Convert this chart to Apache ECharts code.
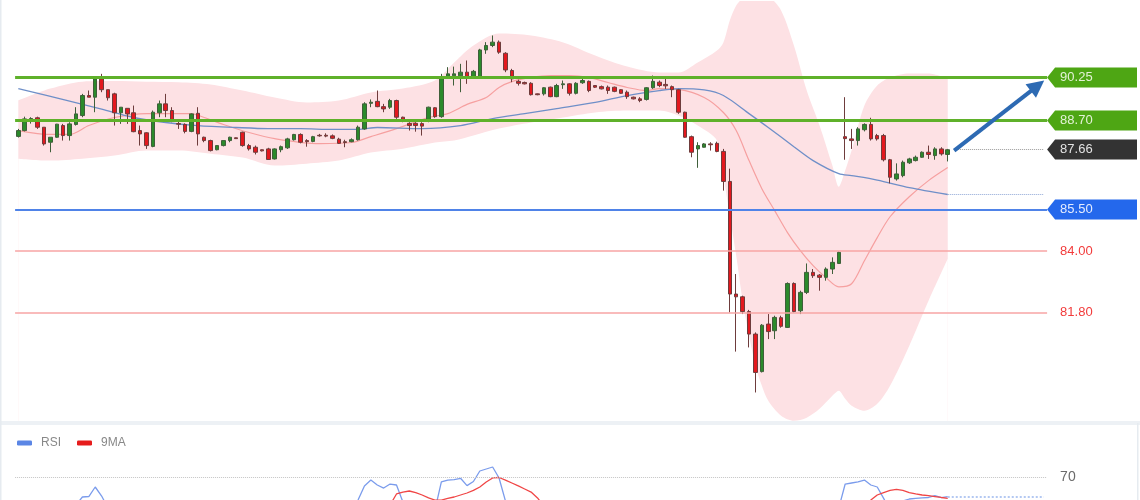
<!DOCTYPE html>
<html><head><meta charset="utf-8">
<script src="https://cdn.jsdelivr.net/npm/echarts@6/dist/echarts.min.js"></script>
<style>html,body{margin:0;padding:0;background:#fff}#c{width:1140px;height:500px}</style>
</head><body><div id="c"></div>
<script>
// ---------- DATA ----------
const opens = [88.13,88.34,88.75,88.80,88.46,87.92,88.10,88.52,88.16,88.56,
88.88,89.60,89.54,90.20,89.81,89.66,88.98,89.14,88.98,88.34,
88.26,87.77,88.98,89.30,89.06,88.59,88.56,88.31,88.96,88.10,
87.98,87.65,87.80,87.98,88.08,88.28,87.80,87.74,87.65,87.68,
87.32,87.65,87.72,88.01,88.20,87.98,87.95,88.17,88.17,88.15,
88.03,87.94,87.94,88.01,88.40,89.32,89.39,89.20,89.18,89.42,
88.82,88.60,88.60,88.59,88.70,89.16,88.84,90.26,90.31,90.31,
90.44,90.28,90.28,91.24,91.40,91.52,91.12,90.50,90.11,90.07,
90.04,89.66,89.66,89.90,89.56,89.99,90.02,89.68,90.06,90.11,
89.96,89.92,89.90,89.90,89.81,89.72,89.54,89.48,89.46,89.88,
90.08,90.00,89.92,89.81,89.00,88.12,87.68,87.74,87.86,87.88,
87.59,86.51,82.46,82.36,81.83,81.02,79.67,81.38,81.14,81.61,
81.26,82.84,81.86,82.52,83.24,83.14,83.06,83.36,83.56,88.12,
88.04,87.98,88.37,88.56,88.16,88.16,87.29,86.60,86.72,87.18,
87.26,87.38,87.56,87.44,87.68,87.48];
const closes = [88.34,88.76,88.77,88.46,87.86,88.10,88.57,88.16,88.58,88.94,
89.60,89.54,90.20,89.81,89.52,88.98,89.18,88.94,88.30,88.22,
87.80,89.00,89.30,89.06,88.70,88.57,88.31,88.94,88.22,87.98,
87.62,87.80,87.98,88.10,88.05,87.80,87.68,87.56,87.61,87.30,
87.68,87.76,88.04,88.20,87.92,87.94,88.12,88.15,88.14,88.06,
87.88,87.91,88.01,88.46,89.30,89.36,89.20,89.12,89.42,88.82,
88.73,88.52,88.52,88.50,89.18,88.84,90.22,90.38,90.38,90.44,
90.26,90.47,91.24,91.40,91.52,91.16,90.52,90.20,90.04,90.02,
89.63,89.63,89.88,89.56,89.96,90.02,89.68,90.04,90.14,89.78,
89.90,89.84,89.78,89.75,89.68,89.56,89.48,89.42,89.88,90.11,
89.96,89.95,89.81,89.00,88.10,87.56,87.80,87.86,87.83,87.59,
86.51,82.46,82.36,81.83,81.02,79.64,81.34,81.11,81.62,81.30,
82.84,81.83,82.52,83.24,83.12,83.06,83.36,83.60,83.96,88.05,
87.98,88.40,88.56,88.04,88.04,87.29,86.66,86.78,87.20,87.32,
87.38,87.56,87.48,87.68,87.50,87.65];
const lows = [88.09,88.31,88.59,88.40,87.80,87.56,88.08,87.98,87.98,88.52,
88.82,89.54,89.00,89.72,89.42,88.52,88.58,88.58,88.28,87.80,
87.68,87.74,88.82,88.82,88.64,88.40,88.24,88.28,87.80,87.92,
87.59,87.63,87.77,87.92,88.04,87.76,87.62,87.48,87.59,87.29,
87.30,87.56,87.68,87.98,87.88,87.76,87.92,88.12,88.10,88.03,
87.86,87.74,87.92,87.98,88.37,89.18,89.18,89.00,89.12,88.76,
88.64,88.34,88.30,88.16,88.64,88.80,88.80,90.20,89.96,89.72,
90.02,90.26,90.26,91.10,91.34,91.10,90.44,90.08,89.96,90.00,
89.60,89.61,89.60,89.54,89.54,89.84,89.60,89.64,90.02,89.72,
89.87,89.82,89.66,89.72,89.66,89.48,89.46,89.36,89.42,89.84,
89.90,89.84,89.54,88.94,88.08,87.38,87.00,87.73,87.62,87.56,
86.18,81.80,80.39,81.74,80.54,78.92,79.64,80.84,80.84,81.25,
81.24,81.80,81.74,82.46,83.04,82.58,82.94,83.18,83.54,87.29,
87.68,87.80,88.31,87.98,87.98,87.23,86.44,86.54,86.66,87.14,
87.23,87.36,87.32,87.29,87.44,87.23];
const highs = [88.40,88.84,88.82,88.84,88.46,88.10,88.58,88.58,88.64,89.18,
89.66,89.78,90.26,90.38,89.81,89.70,89.18,89.14,89.24,88.52,
88.28,89.06,89.42,89.66,89.18,88.70,88.60,88.96,89.18,88.12,
88.01,87.80,87.98,88.12,88.09,88.30,87.86,87.80,87.66,87.72,
87.70,87.80,88.08,88.22,88.24,88.03,88.15,88.22,88.24,88.20,
88.08,88.01,88.06,88.52,89.36,89.46,89.78,89.30,89.48,89.45,
88.84,88.64,88.64,88.64,89.20,89.18,90.38,90.62,90.64,90.74,
90.86,90.52,91.28,91.52,91.76,91.58,91.16,90.56,90.17,90.10,
90.08,89.67,89.90,89.92,90.02,90.14,90.04,90.08,90.20,90.14,
89.96,89.96,89.96,89.92,89.83,89.78,89.56,89.54,89.90,90.32,
90.14,90.20,89.96,89.84,89.02,88.16,87.92,87.89,87.92,87.94,
87.68,86.97,83.18,82.40,81.89,81.08,81.38,81.74,81.68,81.68,
82.88,82.88,82.58,83.56,83.36,83.18,83.42,83.78,83.99,89.54,
88.40,88.46,88.60,88.80,88.22,88.22,87.32,87.16,87.26,87.36,
87.44,87.59,87.80,87.74,87.74,87.68];

// Bollinger band readings: [candle number, upper, lower]
const bandPts = [[1,89.42,87.33],[6,89.85,87.26],[11,90.10,87.33],[16,90.12,87.44],[21,90.10,87.62],[26,90.08,87.62],
[31,90.00,87.51],[36,89.78,87.37],[41,89.53,87.08],[46,89.35,87.15],[51,89.42,87.26],[56,89.71,87.55],[61,89.85,87.69],
[66,90.14,87.91],[69,90.79,87.98],[72,91.40,88.16],[76,91.83,88.41],[81,91.76,88.63],[86,91.51,88.81],[91,91.04,88.99],
[96,90.64,89.06],[101,90.43,89.06],[104,90.43,88.88],[107,90.79,88.52],[110,91.22,87.98],[111,91.51,86.72],[112,92.30,85.28],
[113,92.84,83.84],[114,93.10,82.22],[115,93.30,80.96],[116,93.38,79.88],[117,93.30,79.16],[118,93.20,78.62],[120,92.66,78.08],
[122,91.40,77.90],[124,89.78,78.01],[126,88.52,78.33],[128,87.08,78.80],[129,86.32,78.98],[130,86.90,78.69],[131,87.62,78.44],
[133,89.24,78.26],[135,89.96,78.51],[137,90.25,79.16],[140,90.39,80.60],[143,90.39,82.22],[146,90.21,83.73]];

// moving averages: [candle number, value]
const maRedPts = [[1,88.34],[6,88.20],[9,88.20],[12,88.52],[16,88.81],[21,88.95],[28,88.95],[30,88.81],[33,88.56],[37,88.27],
[41,88.05],[48,87.87],[53,87.91],[56,88.12],[60,88.41],[65,88.81],[68,88.95],[71,89.28],[74,89.53],[76,89.89],[78,90.10],
[81,90.25],[84,90.32],[87,90.32],[90,90.25],[93,90.07],[96,89.89],[99,89.78],[101,89.85],[104,89.82],[108,89.53],[111,88.99],
[113,88.34],[115,87.26],[117,86.25],[119,85.46],[121,84.67],[123,84.02],[125,83.48],[127,83.05],[129,82.72],[131,82.83],
[133,83.66],[135,84.49],[137,85.24],[140,85.96],[143,86.54],[146,87.01]];
const maBluePts = [[1,89.85],[9,89.40],[14,89.11],[19,88.81],[24,88.63],[29,88.52],[35,88.45],[40,88.41],[45,88.41],[50,88.38],
[54,88.38],[57,88.45],[64,88.41],[70,88.52],[75,88.77],[80,88.95],[85,89.13],[91,89.35],[96,89.60],[101,89.78],[104,89.85],
[108,89.80],[111,89.60],[115,88.95],[118,88.45],[122,87.76],[125,87.26],[129,86.79],[131,86.72],[135,86.56],[140,86.29],[146,86.04]];

// RSI pane (only the visible top part): [candle number, value]
const rsiPts = [[10,52.5],[11,57.5],[12,57.8],[13,63.75],[14,58.1],[15,50.6],
[53,49.4],[54,55.6],[55,64.4],[56,68.1],[57,65.0],[58,63.1],[59,65.6],[60,65.0],[61,54.4],[62,48.1],
[66,49.4],[67,66.9],[68,68.1],[69,68.4],[70,69.2],[71,64.6],[72,67.2],[73,73.75],[74,75.0],[75,76.25],[76,69.4],[77,55.0],[78,46.25],
[128,46.25],[129,50.6],[130,65.6],[131,66.25],[132,66.9],[133,68.1],[134,65.0],[135,63.75],[136,56.6],[137,49.4],[138,50.6],
[139,55.0],[140,56.25],[141,56.6],[142,56.9],[143,57.2],[144,58.3],[145,57.1],[146,57.7]];
const rsiMaPts = [[59,52.5],[60,59.4],[61,60.6],[62,61.25],[63,60.3],[64,58.75],[65,56.9],[66,55.6],[67,55.6],[68,56.6],
[69,57.5],[70,58.75],[71,60.0],[72,61.6],[73,63.75],[74,66.9],[75,69.4],[76,69.7],[77,68.1],[78,66.25],[79,64.4],[80,62.5],
[81,60.6],[82,56.9],[83,51.9],
[133,50.6],[134,55.6],[135,58.75],[136,60.3],[137,61.6],[138,62.3],[139,61.6],[140,60.3],[141,59.4],[142,58.75],[143,58.3],
[144,57.8],[145,57.2],[146,56.7]];

const levelGreen = [90.25, 88.70];
const levelBlue = [85.50];
const levelRed = [84.00, 81.80];
const lastPrice = 87.66;
const lastMaBlue = 86.04;
const lastRsi = 57.7;
const rsiLevel = 70;
const N_CAT = 161;
const categories = Array.from({length: N_CAT}, (_, i) => 'K' + (i + 1));

// ---------- BUILD ----------
const NC = opens.length;
const candleData = opens.map((o, i) => [o, closes[i], lows[i], highs[i]]);
function fromPts(pts) { const a = new Array(NC).fill(null); pts.forEach(([n, v]) => a[n - 1] = v); return a; }
const bandUpper = new Array(NC).fill(null), bandLower = new Array(NC).fill(null);
bandPts.forEach(([n, u, l]) => { bandUpper[n - 1] = u; bandLower[n - 1] = l; });

const GL = 15.1, GR = 92.9;
const chart = echarts.init(document.getElementById('c'), null, {renderer: 'canvas'});
const txt = {fontFamily: 'Arial, "Liberation Sans", sans-serif'};

const lvlLines = [];
levelGreen.forEach(v => lvlLines.push({yAxis: v, lineStyle: {color: '#5fb12a', width: 3, type: 'solid'},
  label: {show: true, position: 'end', formatter: v.toFixed(2), color: '#e3f2d6', distance: 13, fontSize: 13, ...txt}}));
lvlLines.push({yAxis: lastPrice, lineStyle: {color: 'rgba(0,0,0,0)', width: 1},
  label: {show: true, position: 'end', formatter: lastPrice.toFixed(2), color: '#e2e2e2', distance: 13, fontSize: 13, ...txt}});
levelBlue.forEach(v => lvlLines.push({yAxis: v, lineStyle: {color: '#4f83e8', width: 2, type: 'solid'},
  label: {show: true, position: 'end', formatter: v.toFixed(2), color: '#e4ecff', distance: 13, fontSize: 13, ...txt}}));
levelRed.forEach(v => lvlLines.push({yAxis: v, lineStyle: {color: '#f7a4a4', width: 1.5, type: 'solid'},
  label: {show: true, position: 'end', formatter: v.toFixed(2), color: '#f23b3b', distance: 13, fontSize: 13, ...txt}}));
lvlLines.push([{coord: [NC, lastPrice], symbol: 'none', lineStyle: {color: '#9a9a9a', width: 1, type: 'dotted'}, label: {show: false}},
  {coord: [N_CAT - 1, lastPrice], symbol: 'none'}]);
lvlLines.push([{coord: [NC - 1, lastMaBlue], symbol: 'none', lineStyle: {color: '#8ea6d6', width: 1, type: 'dotted'}, label: {show: false}},
  {coord: [N_CAT - 1, lastMaBlue], symbol: 'none'}]);
lvlLines.push([{coord: [NC, 87.62], symbol: 'none', lineStyle: {color: '#2d6ab3', width: 4, type: 'solid'}, label: {show: false}},
  {coord: [N_CAT - 2, 89.95], symbol: 'triangle', symbolSize: [17, 17]}]);

const option = {
  animation: false,
  backgroundColor: '#ffffff',
  grid: [{left: GL, right: GR, top: 1, height: 424, outerBoundsMode: 'none'},
         {left: GL, right: GR, top: 429, height: 71, outerBoundsMode: 'none'}],
  legend: {left: 12, top: 432, icon: 'roundRect', itemWidth: 15, itemHeight: 5, itemGap: 16,
    textStyle: {color: '#888', fontSize: 12, padding: [0, 0, 0, 4], ...txt}, data: ['RSI', '9MA'], selectedMode: false},
  xAxis: [
    {type: 'category', gridIndex: 0, data: categories, boundaryGap: true, show: false},
    {type: 'category', gridIndex: 1, data: categories, boundaryGap: true, show: false}
  ],
  yAxis: [
    {type: 'value', gridIndex: 0, min: 77.75, max: 93.0, show: false, splitLine: {show: false}},
    {type: 'value', gridIndex: 1, min: 55.625, max: 100, show: false, splitLine: {show: false}}
  ],
  series: [
    {name: 'bbUp', type: 'line', data: bandUpper, smooth: 0.3, connectNulls: true, symbol: 'none',
      lineStyle: {width: 0, color: 'rgba(0,0,0,0)'}, areaStyle: {color: '#fde1e4', opacity: 1, origin: 'start'}, silent: true, z: 1},
    {name: 'bbLow', type: 'line', data: bandLower, smooth: 0.3, connectNulls: true, symbol: 'none',
      lineStyle: {width: 0, color: 'rgba(0,0,0,0)'}, areaStyle: {color: '#ffffff', opacity: 1, origin: 'start'}, silent: true, z: 1},
    {name: 'MA red', type: 'line', data: fromPts(maRedPts), smooth: 0.3, connectNulls: true, symbol: 'none',
      lineStyle: {color: '#f6a0a0', width: 1.2}, silent: true, z: 2},
    {name: 'MA blue', type: 'line', data: fromPts(maBluePts), smooth: 0.3, connectNulls: true, symbol: 'none',
      lineStyle: {color: '#6f8fc8', width: 1.3}, silent: true, z: 2},
    {name: 'levels', type: 'line', data: [], silent: true, z: 3,
      markLine: {symbol: 'none', silent: true, animation: false, data: lvlLines}},
    {name: 'price', type: 'candlestick', data: candleData, barWidth: 4, z: 4,
      itemStyle: {color: '#2b8a2b', color0: '#e3181e', borderColor: '#3f5f3a', borderColor0: '#6e3c3c', borderWidth: 1}},
    {name: 'RSI', type: 'line', xAxisIndex: 1, yAxisIndex: 1, data: fromPts(rsiPts), symbol: 'none', connectNulls: false,
      lineStyle: {color: '#7b9cec', width: 1.3}, itemStyle: {color: '#5b86e5'}, z: 3,
      markLine: {symbol: 'none', silent: true, animation: false, data: [
        {yAxis: rsiLevel, lineStyle: {color: '#c4c4c4', width: 1, type: 'dotted'},
          label: {show: true, position: 'end', formatter: String(rsiLevel), color: '#6a6a6a', distance: 13, fontSize: 14, ...txt}},
        [{coord: [NC - 1, lastRsi], lineStyle: {color: '#b3c8f2', width: 2, type: 'dotted'}, label: {show: false}},
          {coord: [N_CAT - 1, lastRsi]}]
      ]}},
    {name: '9MA', type: 'line', xAxisIndex: 1, yAxisIndex: 1, data: fromPts(rsiMaPts), symbol: 'none', connectNulls: false,
      lineStyle: {color: '#f04646', width: 1.3}, itemStyle: {color: '#e61c1c'}, z: 3}
  ]
};
chart.setOption(option);

// level tags (box with a left notch) placed through the y scale
const gx = 1140 - GR;
const tags = [{v: levelGreen[0], fill: '#4ea614'}, {v: levelGreen[1], fill: '#4ea614'},
  {v: lastPrice, fill: '#333333'}, {v: levelBlue[0], fill: '#2468ec'}];
const gfx = tags.map(t => {
  const y = chart.convertToPixel({yAxisIndex: 0}, t.v);
  return {type: 'polygon', z: 1, silent: true,
    shape: {points: [[gx, y], [gx + 8, y - 10], [1137, y - 10], [1137, y + 10], [gx + 8, y + 10]]},
    style: {fill: t.fill}};
});
gfx.push({type: 'rect', z: 10, silent: true, shape: {x: 0, y: 421, width: 1140, height: 4}, style: {fill: '#edf1f5'}});
gfx.push({type: 'rect', z: 10, silent: true, shape: {x: 0, y: 0, width: 1.5, height: 500}, style: {fill: '#e6ebf0'}});
gfx.push({type: 'rect', z: 10, silent: true, shape: {x: 1137, y: 423, width: 1.5, height: 77}, style: {fill: '#e6ebf0'}});
chart.setOption({graphic: gfx});
</script>
</body></html>
